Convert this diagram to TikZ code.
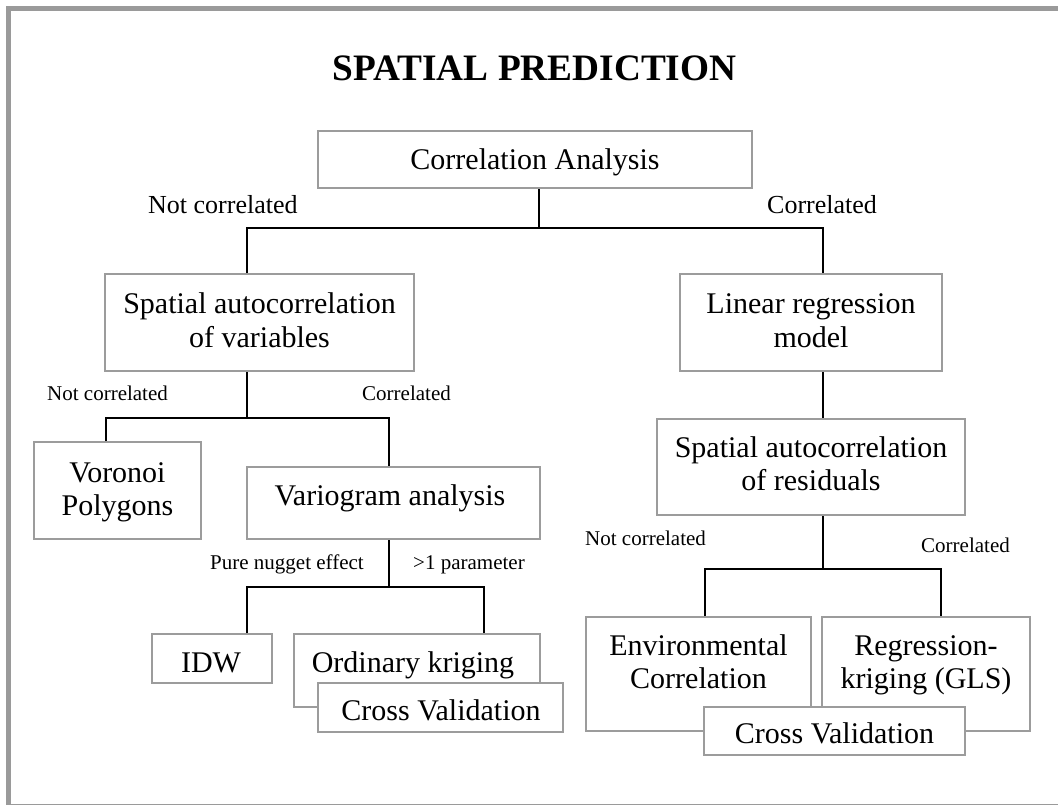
\documentclass[tikz,border=0pt]{standalone}
\usepackage{fontspec}
\setmainfont{Liberation Serif}
\definecolor{boxgray}{HTML}{9C9C9C}
\definecolor{framegray}{HTML}{9A9A9A}
\tikzset{
  box/.style={draw=boxgray, line width=2pt, fill=white, inner sep=0pt, rectangle},
  txt/.style={inner sep=0pt, anchor=base, font=\fontsize{30}{34}\selectfont},
  branch/.style={inner sep=0pt, anchor=base west, font=\fontsize{26}{30}\selectfont},
  smallbranch/.style={inner sep=0pt, anchor=base west, font=\fontsize{21}{25}\selectfont},
  link/.style={draw=black, line width=1.5pt},
}
\begin{document}
\begin{tikzpicture}[x=1pt,y=-1pt]
\useasboundingbox (0,0) rectangle (1058,804);
\fill[white] (0,0) rectangle (1058,804);
\begin{scope}
  \clip (0,0) rectangle (1058,804);
  \draw[framegray, line width=5pt] (8,8) rectangle (1064,806);
\end{scope}

% title
\node[inner sep=0pt, anchor=base, font=\fontsize{37.3}{42}\selectfont\bfseries] (title) at (534.5,80) {SPATIAL PREDICTION};

% boxes
\node[box, minimum width=434pt, minimum height=57pt] (ca) at (535,159.5) {};
\node[txt] (ca-t) at (535,169) {Correlation Analysis};

\node[box, minimum width=309pt, minimum height=97pt] (sv) at (259.5,322.5) {};
\node[txt] (sv-t1) at (259.5,313) {Spatial autocorrelation};
\node[txt] (sv-t2) at (259.5,347) {of variables};

\node[box, minimum width=262pt, minimum height=97pt] (lr) at (811,322.5) {};
\node[txt] (lr-t1) at (811,313) {Linear regression};
\node[txt] (lr-t2) at (811,347) {model};

\node[box, minimum width=167pt, minimum height=97pt] (vp) at (117.5,490.5) {};
\node[txt] (vp-t1) at (117.5,482) {Voronoi};
\node[txt] (vp-t2) at (117.5,515) {Polygons};

\node[box, minimum width=293pt, minimum height=72pt] (va) at (393.5,503) {};
\node[txt] (va-t) at (390,505) {Variogram analysis};

\node[box, minimum width=120pt, minimum height=49pt] (idw) at (212,658.5) {};
\node[txt] (idw-t) at (211,672) {IDW};

\node[box, minimum width=246pt, minimum height=73pt] (ok) at (417,670.5) {};
\node[txt] (ok-t) at (413,672) {Ordinary kriging};

\node[box, minimum width=245pt, minimum height=49pt] (cv1) at (440.5,707.5) {};
\node[txt] (cv1-t) at (441,720) {Cross Validation};

\node[box, minimum width=308pt, minimum height=96pt] (sr) at (811,467) {};
\node[txt] (sr-t1) at (811,457) {Spatial autocorrelation};
\node[txt] (sr-t2) at (811,490) {of residuals};

\node[box, minimum width=225pt, minimum height=114pt] (ec) at (698.5,674) {};
\node[txt] (ec-t1) at (698.5,655) {Environmental};
\node[txt] (ec-t2) at (698.5,688) {Correlation};

\node[box, minimum width=208pt, minimum height=114pt] (rk) at (926,674) {};
\node[txt] (rk-t1) at (926,655) {Regression-};
\node[txt] (rk-t2) at (926,688) {kriging (GLS)};

\node[box, minimum width=261pt, minimum height=48pt] (cv2) at (834.5,731) {};
\node[txt] (cv2-t) at (834.5,743) {Cross Validation};

% junctions of the connector bars
\coordinate (j1) at (539,228);
\coordinate (j2) at (247,418);
\coordinate (j3) at (389,587);
\coordinate (j4) at (823,569);

% connectors
\draw[link] ([xshift=4pt]ca.south) -- (j1);
\draw[link] ([xshift=-12.5pt]sv.north) |- (j1) -| ([xshift=12pt]lr.north);

\draw[link] ([xshift=-12.5pt]sv.south) -- (j2);
\draw[link] ([xshift=-11.5pt]vp.north) |- (j2) -| ([xshift=-4.5pt]va.north);

\draw[link] ([xshift=-4.5pt]va.south) -- (j3);
\draw[link] ([xshift=35pt]idw.north) |- (j3) -| ([xshift=67pt]ok.north);

\draw[link] ([xshift=12pt]lr.south) -- ([xshift=12pt]sr.north);
\draw[link] ([xshift=12pt]sr.south) -- (j4);
\draw[link] ([xshift=6.5pt]ec.north) |- (j4) -| ([xshift=15pt]rk.north);

% branch labels
\node[branch] (l1) at (148,213) {Not correlated};
\node[branch] (l2) at (767,213) {Correlated};
\node[smallbranch] (l3) at (47,400) {Not correlated};
\node[smallbranch] (l4) at (362,400) {Correlated};
\node[smallbranch] (l5) at (210,569) {Pure nugget effect};
\node[smallbranch] (l6) at (413,569) {>1 parameter};
\node[smallbranch] (l7) at (585,545) {Not correlated};
\node[smallbranch] (l8) at (921,552) {Correlated};
\end{tikzpicture}
\end{document}
